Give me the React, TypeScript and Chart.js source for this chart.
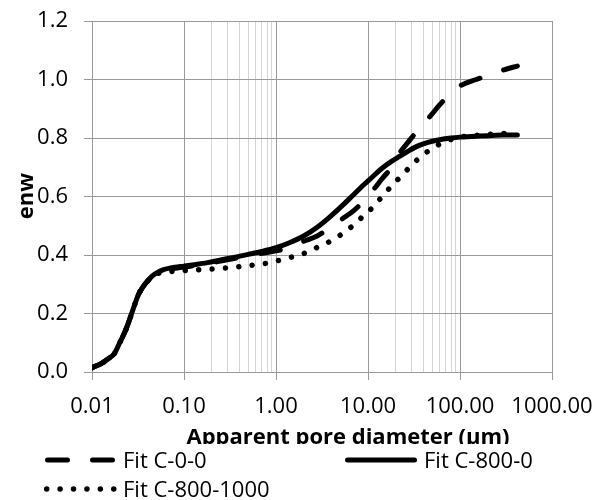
import React, { useEffect, useRef } from 'react';
import { Chart, registerables } from 'chart.js';

Chart.register(...registerables);

// ---- data ----
const diameters = [0.01, 0.0125, 0.015, 0.0175, 0.02, 0.0225, 0.025, 0.028, 0.032, 0.036, 0.04, 0.045, 0.05, 0.06, 0.07, 0.08, 0.1, 0.13, 0.18, 0.25, 0.35, 0.5, 0.7, 1, 1.4, 2, 2.8, 4, 5.5, 7, 9, 11, 14, 18, 22, 28, 35, 45, 60, 80, 100, 150, 200, 300, 420];

const fitC00 = [0.015, 0.028, 0.045, 0.063, 0.1, 0.133, 0.17, 0.215, 0.265, 0.292, 0.31, 0.328, 0.337, 0.348, 0.352, 0.355, 0.359, 0.364, 0.371, 0.379, 0.388, 0.398, 0.406, 0.414, 0.425, 0.447, 0.465, 0.497, 0.528, 0.552, 0.585, 0.616, 0.658, 0.7, 0.748, 0.79, 0.828, 0.866, 0.913, 0.955, 0.978, 1.0, 1.013, 1.033, 1.046];

const fitC8000 = [0.015, 0.028, 0.045, 0.063, 0.1, 0.133, 0.17, 0.215, 0.265, 0.292, 0.31, 0.328, 0.338, 0.35, 0.355, 0.358, 0.362, 0.367, 0.374, 0.383, 0.392, 0.402, 0.412, 0.425, 0.442, 0.465, 0.495, 0.535, 0.575, 0.607, 0.64, 0.665, 0.695, 0.72, 0.737, 0.757, 0.773, 0.785, 0.794, 0.8, 0.803, 0.806, 0.808, 0.81, 0.81];

const fitC8001000 = [0.015, 0.028, 0.045, 0.063, 0.1, 0.133, 0.17, 0.215, 0.265, 0.292, 0.31, 0.327, 0.335, 0.342, 0.343, 0.345, 0.347, 0.349, 0.351, 0.354, 0.358, 0.364, 0.369, 0.379, 0.391, 0.405, 0.426, 0.449, 0.477, 0.503, 0.535, 0.56, 0.597, 0.636, 0.664, 0.698, 0.728, 0.755, 0.779, 0.795, 0.803, 0.809, 0.812, 0.815, 0.817];

const seriesNames = ['Fit C-0-0', 'Fit C-800-0', 'Fit C-800-1000'];
const xMajorTicks = [0.01, 0.1, 1, 10, 100, 1000];
const xMinorTicks = [0.2, 0.3, 0.4, 0.5, 0.6, 0.7, 0.8, 0.9, 20, 30, 40, 50, 60, 70, 80, 90];
const xTitle = 'Apparent pore diameter (µm)';
const yTitle = 'enw';

const FONT = "'Open Sans', 'Liberation Sans', sans-serif";

const isDecade = (v: number) => Math.abs(Math.log10(v) - Math.round(Math.log10(v))) < 1e-9;

const overlayPlugin = {
  id: 'overlay',
  afterDraw(chart: any) {
    const ctx = chart.ctx as CanvasRenderingContext2D;
    ctx.save();
    ctx.fillStyle = '#000';
    // x axis title (clipped by legend box)
    ctx.save();
    ctx.beginPath();
    ctx.rect(0, 0, chart.width, 444);
    ctx.clip();
    ctx.font = `bold 22px ${FONT}`;
    ctx.textAlign = 'center';
    ctx.textBaseline = 'alphabetic';
    ctx.fillText(xTitle, 348, 444);
    ctx.restore();
    // y axis title
    ctx.save();
    ctx.translate(33, 196);
    ctx.rotate(-Math.PI / 2);
    ctx.font = `bold 22px ${FONT}`;
    ctx.textAlign = 'center';
    ctx.textBaseline = 'alphabetic';
    ctx.fillText(yTitle, 0, 0);
    ctx.restore();
    // legend
    const items = [
      { ds: 0, x0: 47.5, x1: 112.5, y: 460, tx: 123 },
      { ds: 1, x0: 347.5, x1: 414.5, y: 460, tx: 424 },
      { ds: 2, x0: 46.7, x1: 114, y: 489, tx: 123 },
    ];
    items.forEach((it) => {
      const d = chart.data.datasets[it.ds];
      ctx.save();
      ctx.strokeStyle = d.borderColor;
      ctx.lineWidth = d.borderWidth;
      ctx.lineCap = 'round';
      ctx.setLineDash(d.borderDash || []);
      ctx.beginPath();
      ctx.moveTo(it.x0, it.y);
      ctx.lineTo(it.x1, it.y);
      ctx.stroke();
      ctx.restore();
      ctx.font = `22px ${FONT}`;
      ctx.textAlign = 'left';
      ctx.textBaseline = 'alphabetic';
      ctx.fillText(d.label, it.tx, it.y + 8);
    });
    ctx.restore();
  },
};

export default function App() {
  const ref = useRef<HTMLCanvasElement | null>(null);
  useEffect(() => {
    document.body.style.margin = '0';
    const canvas = ref.current!;
    const mk = (vals: number[]) => diameters.map((x, i) => ({ x, y: vals[i] }));
    const chart = new Chart(canvas, {
      type: 'line',
      data: {
        datasets: [
          {
            label: seriesNames[0],
            data: mk(fitC00),
            borderColor: '#000',
            borderWidth: 5,
            borderDash: [20, 25],
            borderCapStyle: 'round',
            borderJoinStyle: 'round',
            pointRadius: 0,
            cubicInterpolationMode: 'monotone',
          },
          {
            label: seriesNames[1],
            data: mk(fitC8000),
            borderColor: '#000',
            borderWidth: 5,
            borderCapStyle: 'round',
            borderJoinStyle: 'round',
            pointRadius: 0,
            cubicInterpolationMode: 'monotone',
          },
          {
            label: seriesNames[2],
            data: mk(fitC8001000),
            borderColor: '#000',
            borderWidth: 5.5,
            borderDash: [0.01, 13.4],
            borderCapStyle: 'round',
            borderJoinStyle: 'round',
            pointRadius: 0,
            cubicInterpolationMode: 'monotone',
          },
        ] as any,
      },
      options: {
        responsive: false,
        animation: false,
        layout: { padding: { top: 21, right: 54, left: 0, bottom: 0 } },
        plugins: { legend: { display: false }, tooltip: { enabled: false } },
        scales: {
          x: {
            type: 'logarithmic',
            min: 0.01,
            max: 1000,
            afterBuildTicks: (scale: any) => {
              const vals = [...xMajorTicks, ...xMinorTicks].sort((a, b) => a - b);
              scale.ticks = vals.map((v) => ({ value: v, major: isDecade(v) }));
            },
            afterFit: (scale: any) => {
              scale.height = 128;
              scale.paddingLeft = 0;
              scale.paddingRight = 0;
            },
            ticks: {
              autoSkip: false,
              maxRotation: 0,
              minRotation: 0,
              padding: 14,
              color: '#000',
              font: { family: FONT, size: 22 },
              callback: (v: any) => (isDecade(Number(v)) ? Number(v).toFixed(2) : ''),
            },
            grid: {
              color: (c: any) => (c.tick && isDecade(c.tick.value) ? '#999999' : '#d4d4d4'),
              tickColor: (c: any) => (c.tick && isDecade(c.tick.value) ? '#999999' : 'rgba(0,0,0,0)'),
              tickLength: 8,
              lineWidth: 1,
            },
            border: { color: '#999999', width: 1 },
          },
          y: {
            type: 'linear',
            min: 0,
            max: 1.2,
            afterFit: (scale: any) => {
              scale.width = 92;
              scale.paddingTop = 0;
              scale.paddingBottom = 0;
            },
            ticks: {
              stepSize: 0.2,
              padding: 16,
              color: '#000',
              font: { family: FONT, size: 22 },
              callback: (v: any) => Number(v).toFixed(1),
            },
            grid: { color: '#999999', tickColor: '#999999', tickLength: 8, lineWidth: 1 },
            border: { color: '#999999', width: 1 },
          },
        },
      } as any,
      plugins: [overlayPlugin],
    });
    return () => chart.destroy();
  }, []);
  return <canvas ref={ref} width={606} height={500} style={{ display: 'block' }} />;
}
